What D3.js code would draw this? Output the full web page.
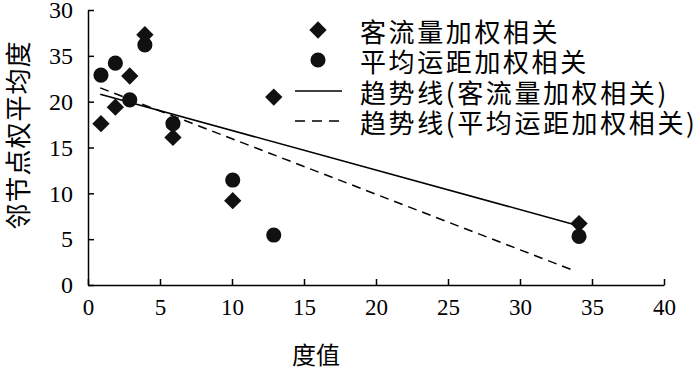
<!DOCTYPE html>
<html lang="zh">
<head>
    <meta charset="UTF-8">
    <script src="https://cdnjs.cloudflare.com/ajax/libs/d3/7.8.5/d3.min.js"></script>
    <style>
        body { margin: 0; background: white; }
        .num { font-family: 'Liberation Serif', 'DejaVu Serif', serif; }
        .cjk { font-family: 'Noto Sans CJK SC', sans-serif; }
    </style>
</head>
<body>
    <div id="chart"></div>
    <script>
        // Data
        const degree = [0.9, 1.9, 2.9, 3.95, 5.9, 10.05, 12.9, 34.1];
        const flowWeighted = [17.6, 19.4, 22.8, 27.3, 16.1, 9.2, 20.5, 6.7];
        const distWeighted = [22.9, 24.2, 20.2, 26.2, 17.6, 11.45, 5.45, 5.3];
        const trendFlow = [[0.85, 20.8], [34, 6.5]];
        const trendDist = [[0.85, 21.5], [33.7, 1.6]];

        const xTicks = [0, 5, 10, 15, 20, 25, 30, 35, 40];
        const yTicks = [0, 5, 10, 15, 20, 25, 30];
        const yTickLabels = ["0", "5", "10", "15", "20", "35", "30"];  // as printed in the original
        const legendLabels = ["客流量加权相关", "平均运距加权相关", "趋势线(客流量加权相关)", "趋势线(平均运距加权相关)"];

        const width = 700, height = 370;
        const margin = { left: 88, right: 36, top: 10, bottom: 85 };

        const svg = d3.select("#chart").append("svg")
            .attr("width", width)
            .attr("height", height);

        const x = d3.scaleLinear().domain([0, 40]).range([margin.left, width - margin.right]);
        const y = d3.scaleLinear().domain([0, 30]).range([height - margin.bottom, margin.top]);

        // x axis
        const xAxis = svg.append("g")
            .attr("transform", `translate(0,${y(0)})`)
            .call(d3.axisBottom(x).tickValues(xTicks).tickSizeInner(-6).tickSizeOuter(0).tickPadding(14));
        xAxis.selectAll("text").attr("class", "num").attr("font-size", 23).attr("fill", "#000");

        // y axis
        const yAxis = svg.append("g")
            .attr("transform", `translate(${x(0)},0)`)
            .call(d3.axisLeft(y).tickValues(yTicks).tickSizeInner(-6).tickSizeOuter(0).tickPadding(15)
                .tickFormat((d, i) => yTickLabels[i]));
        yAxis.selectAll("text").attr("class", "num").attr("font-size", 24).attr("fill", "#000");

        svg.selectAll(".domain, .tick line").attr("stroke", "#000").attr("stroke-width", 1.5);

        // axis titles
        svg.append("text")
            .attr("class", "cjk")
            .attr("x", 316).attr("y", 364)
            .attr("text-anchor", "middle")
            .attr("font-size", 24)
            .text("度值");

        svg.append("text")
            .attr("class", "cjk")
            .attr("transform", "translate(16,135) rotate(-90)")
            .attr("text-anchor", "middle")
            .attr("dominant-baseline", "central")
            .attr("font-size", 26)
            .attr("letter-spacing", 1)
            .text("邻节点权平均度");

        // trend lines
        const line = d3.line().x(d => x(d[0])).y(d => y(d[1]));
        svg.append("path").datum(trendFlow)
            .attr("d", line).attr("fill", "none").attr("stroke", "#000").attr("stroke-width", 1.5);
        svg.append("path").datum(trendDist)
            .attr("d", line).attr("fill", "none").attr("stroke", "#000").attr("stroke-width", 1.5)
            .attr("stroke-dasharray", "9,6");

        // markers
        const diamond = d3.symbol().type(d3.symbolSquare).size(150);
        const circle = d3.symbol().type(d3.symbolCircle).size(180);

        svg.append("g").selectAll("path")
            .data(degree.map((d, i) => [d, distWeighted[i]]))
            .join("path")
            .attr("d", circle)
            .attr("transform", d => `translate(${x(d[0])},${y(d[1])})`)
            .attr("fill", "#111");

        svg.append("g").selectAll("path")
            .data(degree.map((d, i) => [d, flowWeighted[i]]))
            .join("path")
            .attr("d", diamond)
            .attr("transform", d => `translate(${x(d[0])},${y(d[1])}) rotate(45)`)
            .attr("fill", "#111");

        // legend
        const legend = svg.append("g");
        const rowY = [30, 60, 91, 121];
        legend.append("path").attr("d", diamond)
            .attr("transform", `translate(318,${rowY[0]}) rotate(45)`).attr("fill", "#111");
        legend.append("path").attr("d", circle)
            .attr("transform", `translate(318,${rowY[1]})`).attr("fill", "#111");
        legend.append("line").attr("x1", 295).attr("x2", 342).attr("y1", rowY[2]).attr("y2", rowY[2])
            .attr("stroke", "#000").attr("stroke-width", 1.5);
        legend.append("line").attr("x1", 295).attr("x2", 342).attr("y1", rowY[3]).attr("y2", rowY[3])
            .attr("stroke", "#000").attr("stroke-width", 1.5).attr("stroke-dasharray", "10,7");

        legend.selectAll("text")
            .data(legendLabels)
            .join("text")
            .attr("class", "cjk")
            .attr("x", 360)
            .attr("y", (d, i) => rowY[i])
            .attr("dominant-baseline", "central")
            .attr("font-size", 26)
            .attr("letter-spacing", 2.6)
            .text(d => d);
    </script>
</body>
</html>
